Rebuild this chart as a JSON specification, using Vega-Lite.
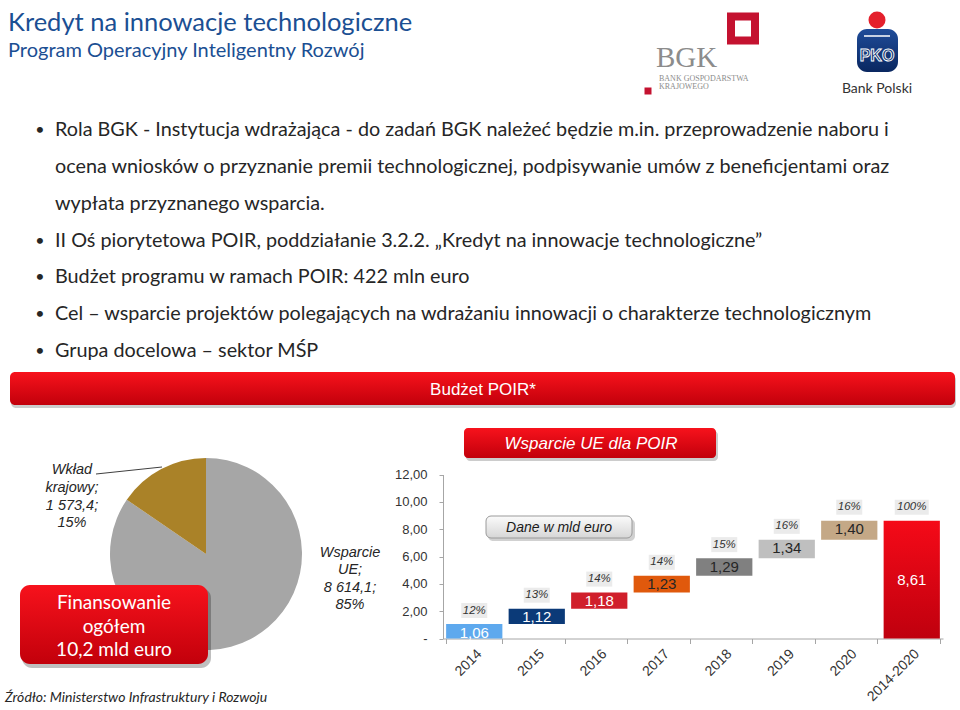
{
  "$schema": "https://vega.github.io/schema/vega-lite/v6.json",
  "width": 960,
  "height": 710,
  "autosize": {"type": "none"},
  "padding": 0,
  "background": "white",
  "config": {
    "view": {"stroke": null},
    "locale": {"number": {"decimal": ",", "thousands": " ", "grouping": [3], "currency": ["", " €"]}}
  },
  "resolve": {"scale": {"x": "independent", "y": "independent", "color": "independent"}},
  "layer": [
    {
      "layer": [
        {
          "data": {"values": [{"t": "Kredyt na innowacje technologiczne"}]},
          "mark": {"type": "text", "align": "left", "baseline": "alphabetic", "font": "Lato", "fontSize": 25.5, "color": "#1b4f93"},
          "encoding": {
            "x": {"datum": 8, "type": "quantitative", "scale": {"domain": [0, 960], "nice": false, "zero": false}, "axis": null},
            "y": {"datum": 31, "type": "quantitative", "scale": {"domain": [0, 710], "nice": false, "zero": false, "reverse": true}, "axis": null},
            "text": {"field": "t", "type": "nominal"}
          }
        },
        {
          "data": {"values": [{"t": "Program Operacyjny Inteligentny Rozwój"}]},
          "mark": {"type": "text", "align": "left", "baseline": "alphabetic", "font": "Lato", "fontSize": 20, "color": "#1b4f93"},
          "encoding": {
            "x": {"datum": 8, "type": "quantitative", "scale": {"domain": [0, 960], "nice": false, "zero": false}, "axis": null},
            "y": {"datum": 57, "type": "quantitative", "scale": {"domain": [0, 710], "nice": false, "zero": false, "reverse": true}, "axis": null},
            "text": {"field": "t", "type": "nominal"}
          }
        },
        {
          "data": {"values": [{"logo": "BGK"}]},
          "mark": {"type": "point", "shape": "square", "filled": false, "stroke": "#c41230", "strokeWidth": 8, "size": 576, "opacity": 1},
          "encoding": {
            "x": {"datum": 743, "type": "quantitative", "scale": {"domain": [0, 960], "nice": false, "zero": false}, "axis": null},
            "y": {"datum": 28.5, "type": "quantitative", "scale": {"domain": [0, 710], "nice": false, "zero": false, "reverse": true}, "axis": null}
          }
        },
        {
          "data": {"values": [{"logo": "BGK"}]},
          "mark": {"type": "point", "shape": "square", "filled": true, "color": "#c41230", "size": 49, "opacity": 1},
          "encoding": {
            "x": {"datum": 648, "type": "quantitative", "scale": {"domain": [0, 960], "nice": false, "zero": false}, "axis": null},
            "y": {"datum": 91, "type": "quantitative", "scale": {"domain": [0, 710], "nice": false, "zero": false, "reverse": true}, "axis": null}
          }
        },
        {
          "data": {"values": [{"t": "BGK"}]},
          "mark": {"type": "text", "align": "left", "baseline": "alphabetic", "font": "Liberation Serif", "fontSize": 29, "color": "#8c8c8c"},
          "encoding": {
            "x": {"datum": 656, "type": "quantitative", "scale": {"domain": [0, 960], "nice": false, "zero": false}, "axis": null},
            "y": {"datum": 66.5, "type": "quantitative", "scale": {"domain": [0, 710], "nice": false, "zero": false, "reverse": true}, "axis": null},
            "text": {"field": "t", "type": "nominal"}
          }
        },
        {
          "data": {"values": [{"t": "BANK GOSPODARSTWA"}]},
          "mark": {"type": "text", "align": "left", "baseline": "alphabetic", "font": "Liberation Serif", "fontSize": 8, "color": "#8c8c8c"},
          "encoding": {
            "x": {"datum": 659, "type": "quantitative", "scale": {"domain": [0, 960], "nice": false, "zero": false}, "axis": null},
            "y": {"datum": 80.5, "type": "quantitative", "scale": {"domain": [0, 710], "nice": false, "zero": false, "reverse": true}, "axis": null},
            "text": {"field": "t", "type": "nominal"}
          }
        },
        {
          "data": {"values": [{"t": "KRAJOWEGO"}]},
          "mark": {"type": "text", "align": "left", "baseline": "alphabetic", "font": "Liberation Serif", "fontSize": 8, "color": "#8c8c8c"},
          "encoding": {
            "x": {"datum": 659, "type": "quantitative", "scale": {"domain": [0, 960], "nice": false, "zero": false}, "axis": null},
            "y": {"datum": 89, "type": "quantitative", "scale": {"domain": [0, 710], "nice": false, "zero": false, "reverse": true}, "axis": null},
            "text": {"field": "t", "type": "nominal"}
          }
        },
        {
          "data": {"values": [{"logo": "PKO"}]},
          "mark": {"type": "point", "shape": "circle", "filled": true, "color": "#e4202c", "size": 289, "opacity": 1},
          "encoding": {
            "x": {"datum": 877, "type": "quantitative", "scale": {"domain": [0, 960], "nice": false, "zero": false}, "axis": null},
            "y": {"datum": 20, "type": "quantitative", "scale": {"domain": [0, 710], "nice": false, "zero": false, "reverse": true}, "axis": null}
          }
        },
        {
          "data": {"values": [{"logo": "PKO"}]},
          "mark": {"type": "rect", "cornerRadius": 10, "color": {"gradient": "linear", "x1": 0, "y1": 0, "x2": 0, "y2": 1, "stops": [{"offset": 0, "color": "#1f4c99"}, {"offset": 1, "color": "#0a2760"}]}},
          "encoding": {
            "x": {"datum": 857, "type": "quantitative", "scale": {"domain": [0, 960], "nice": false, "zero": false}, "axis": null},
            "x2": {"datum": 898},
            "y": {"datum": 29, "type": "quantitative", "scale": {"domain": [0, 710], "nice": false, "zero": false, "reverse": true}, "axis": null},
            "y2": {"datum": 72}
          }
        },
        {
          "data": {"values": [{"logo": "PKO"}]},
          "mark": {"type": "rule", "color": "white", "strokeWidth": 1.5},
          "encoding": {
            "x": {"datum": 864, "type": "quantitative", "scale": {"domain": [0, 960], "nice": false, "zero": false}, "axis": null},
            "x2": {"datum": 890},
            "y": {"datum": 36, "type": "quantitative", "scale": {"domain": [0, 710], "nice": false, "zero": false, "reverse": true}, "axis": null}
          }
        },
        {
          "data": {"values": [{"t": "PKO"}]},
          "mark": {"type": "text", "align": "center", "baseline": "middle", "font": "Liberation Sans", "fontWeight": "bold", "fontSize": 16, "color": "#0f2f6c", "stroke": "white", "strokeWidth": 0.9},
          "encoding": {
            "x": {"datum": 877, "type": "quantitative", "scale": {"domain": [0, 960], "nice": false, "zero": false}, "axis": null},
            "y": {"datum": 56, "type": "quantitative", "scale": {"domain": [0, 710], "nice": false, "zero": false, "reverse": true}, "axis": null},
            "text": {"field": "t", "type": "nominal"}
          }
        },
        {
          "data": {"values": [{"t": "Bank Polski"}]},
          "mark": {"type": "text", "align": "center", "baseline": "middle", "font": "Lato", "fontSize": 14, "color": "#333333"},
          "encoding": {
            "x": {"datum": 877, "type": "quantitative", "scale": {"domain": [0, 960], "nice": false, "zero": false}, "axis": null},
            "y": {"datum": 88.5, "type": "quantitative", "scale": {"domain": [0, 710], "nice": false, "zero": false, "reverse": true}, "axis": null},
            "text": {"field": "t", "type": "nominal"}
          }
        },
        {
          "data": {"values": [{"box": "Budżet POIR*"}]},
          "layer": [
            {
              "mark": {"type": "rect", "cornerRadius": 5, "color": "#000000", "opacity": 0.2},
              "encoding": {
                "x": {"datum": 11, "type": "quantitative", "scale": {"domain": [0, 960], "nice": false, "zero": false}, "axis": null},
                "x2": {"datum": 956},
                "y": {"datum": 375, "type": "quantitative", "scale": {"domain": [0, 710], "nice": false, "zero": false, "reverse": true}, "axis": null},
                "y2": {"datum": 408}
              }
            },
            {
              "mark": {"type": "rect", "cornerRadius": 5, "color": {"gradient": "linear", "x1": 0, "y1": 0, "x2": 0, "y2": 1, "stops": [{"offset": 0, "color": "#f7121c"}, {"offset": 1, "color": "#c2000b"}]}},
              "encoding": {
                "x": {"datum": 10, "type": "quantitative", "scale": {"domain": [0, 960], "nice": false, "zero": false}, "axis": null},
                "x2": {"datum": 955},
                "y": {"datum": 372, "type": "quantitative", "scale": {"domain": [0, 710], "nice": false, "zero": false, "reverse": true}, "axis": null},
                "y2": {"datum": 405}
              }
            },
            {
              "mark": {"type": "text", "align": "center", "baseline": "middle", "font": "Liberation Sans", "fontSize": 17, "color": "white"},
              "encoding": {
                "x": {"datum": 483, "type": "quantitative", "scale": {"domain": [0, 960], "nice": false, "zero": false}, "axis": null},
                "y": {"datum": 389.5, "type": "quantitative", "scale": {"domain": [0, 710], "nice": false, "zero": false, "reverse": true}, "axis": null},
                "text": {"field": "box", "type": "nominal"}
              }
            }
          ]
        },
        {
          "data": {"values": [{"box": "Wsparcie UE dla POIR"}]},
          "layer": [
            {
              "mark": {"type": "rect", "cornerRadius": 4, "color": "#000000", "opacity": 0.2},
              "encoding": {
                "x": {"datum": 466, "type": "quantitative", "scale": {"domain": [0, 960], "nice": false, "zero": false}, "axis": null},
                "x2": {"datum": 718},
                "y": {"datum": 431, "type": "quantitative", "scale": {"domain": [0, 710], "nice": false, "zero": false, "reverse": true}, "axis": null},
                "y2": {"datum": 461}
              }
            },
            {
              "mark": {"type": "rect", "cornerRadius": 4, "color": {"gradient": "linear", "x1": 0, "y1": 0, "x2": 0, "y2": 1, "stops": [{"offset": 0, "color": "#f7121c"}, {"offset": 1, "color": "#c2000b"}]}},
              "encoding": {
                "x": {"datum": 464, "type": "quantitative", "scale": {"domain": [0, 960], "nice": false, "zero": false}, "axis": null},
                "x2": {"datum": 716},
                "y": {"datum": 428, "type": "quantitative", "scale": {"domain": [0, 710], "nice": false, "zero": false, "reverse": true}, "axis": null},
                "y2": {"datum": 458}
              }
            },
            {
              "mark": {"type": "text", "align": "center", "baseline": "middle", "font": "Liberation Sans", "fontStyle": "italic", "fontSize": 17, "color": "white"},
              "encoding": {
                "x": {"datum": 591, "type": "quantitative", "scale": {"domain": [0, 960], "nice": false, "zero": false}, "axis": null},
                "y": {"datum": 443.5, "type": "quantitative", "scale": {"domain": [0, 710], "nice": false, "zero": false, "reverse": true}, "axis": null},
                "text": {"field": "box", "type": "nominal"}
              }
            }
          ]
        },
        {
          "data": {"values": [{"note": "Dane w mld euro"}]},
          "layer": [
            {
              "mark": {"type": "rect", "cornerRadius": 5, "color": "#000000", "opacity": 0.18},
              "encoding": {
                "x": {"datum": 488, "type": "quantitative", "scale": {"domain": [0, 960], "nice": false, "zero": false}, "axis": null},
                "x2": {"datum": 635},
                "y": {"datum": 519, "type": "quantitative", "scale": {"domain": [0, 710], "nice": false, "zero": false, "reverse": true}, "axis": null},
                "y2": {"datum": 541}
              }
            },
            {
              "mark": {"type": "rect", "cornerRadius": 5, "stroke": "#9a9a9a", "strokeWidth": 1, "fill": {"gradient": "linear", "x1": 0, "y1": 0, "x2": 0, "y2": 1, "stops": [{"offset": 0, "color": "#fbfbfb"}, {"offset": 1, "color": "#d6d6d6"}]}},
              "encoding": {
                "x": {"datum": 486, "type": "quantitative", "scale": {"domain": [0, 960], "nice": false, "zero": false}, "axis": null},
                "x2": {"datum": 632},
                "y": {"datum": 516, "type": "quantitative", "scale": {"domain": [0, 710], "nice": false, "zero": false, "reverse": true}, "axis": null},
                "y2": {"datum": 538}
              }
            },
            {
              "mark": {"type": "text", "align": "center", "baseline": "middle", "font": "Liberation Sans", "fontStyle": "italic", "fontSize": 14, "color": "#1a1a1a"},
              "encoding": {
                "x": {"datum": 559, "type": "quantitative", "scale": {"domain": [0, 960], "nice": false, "zero": false}, "axis": null},
                "y": {"datum": 527.5, "type": "quantitative", "scale": {"domain": [0, 710], "nice": false, "zero": false, "reverse": true}, "axis": null},
                "text": {"field": "note", "type": "nominal"}
              }
            }
          ]
        },
        {
          "data": {"values": [
            {"part": "Wsparcie UE", "value": 8614.1, "label": "Wsparcie\nUE;\n8 614,1;\n85%"},
            {"part": "Wkład krajowy", "value": 1573.4, "label": "Wkład\nkrajowy;\n1 573,4;\n15%"}
          ]},
          "layer": [
            {
              "mark": {"type": "arc", "outerRadius": 96},
              "encoding": {
                "x": {"datum": 206, "type": "quantitative", "scale": {"domain": [0, 960], "nice": false, "zero": false}, "axis": null},
                "y": {"datum": 554, "type": "quantitative", "scale": {"domain": [0, 710], "nice": false, "zero": false, "reverse": true}, "axis": null},
                "theta": {"field": "value", "type": "quantitative", "stack": true},
                "order": {"field": "value", "type": "quantitative", "sort": "descending"},
                "color": {"field": "part", "type": "nominal", "scale": {"domain": ["Wsparcie UE", "Wkład krajowy"], "range": ["#a6a6a6", "#aa8228"]}, "legend": null}
              }
            },
            {
              "transform": [{"filter": "datum.part === 'Wkład krajowy'"}],
              "mark": {"type": "text", "align": "center", "baseline": "middle", "font": "Liberation Sans", "fontStyle": "italic", "fontSize": 14.5, "lineBreak": "\n", "lineHeight": 17.8, "color": "#262626"},
              "encoding": {
                "x": {"datum": 72, "type": "quantitative", "scale": {"domain": [0, 960], "nice": false, "zero": false}, "axis": null},
                "y": {"datum": 470, "type": "quantitative", "scale": {"domain": [0, 710], "nice": false, "zero": false, "reverse": true}, "axis": null},
                "text": {"field": "label", "type": "nominal"}
              }
            },
            {
              "transform": [{"filter": "datum.part === 'Wsparcie UE'"}],
              "mark": {"type": "text", "align": "center", "baseline": "middle", "font": "Liberation Sans", "fontStyle": "italic", "fontSize": 14.5, "lineBreak": "\n", "lineHeight": 17.3, "color": "#262626"},
              "encoding": {
                "x": {"datum": 350, "type": "quantitative", "scale": {"domain": [0, 960], "nice": false, "zero": false}, "axis": null},
                "y": {"datum": 553, "type": "quantitative", "scale": {"domain": [0, 710], "nice": false, "zero": false, "reverse": true}, "axis": null},
                "text": {"field": "label", "type": "nominal"}
              }
            },
            {
              "transform": [{"filter": "datum.part === 'Wkład krajowy'"}],
              "mark": {"type": "rule", "color": "#404040", "strokeWidth": 1},
              "encoding": {
                "x": {"datum": 96, "type": "quantitative", "scale": {"domain": [0, 960], "nice": false, "zero": false}, "axis": null},
                "x2": {"datum": 162},
                "y": {"datum": 474, "type": "quantitative", "scale": {"domain": [0, 710], "nice": false, "zero": false, "reverse": true}, "axis": null},
                "y2": {"datum": 467}
              }
            }
          ]
        },
        {
          "data": {"values": [{"box": "Finansowanie\nogółem\n10,2 mld euro"}]},
          "layer": [
            {
              "mark": {"type": "rect", "cornerRadius": 10, "color": "#000000", "opacity": 0.25},
              "encoding": {
                "x": {"datum": 22, "type": "quantitative", "scale": {"domain": [0, 960], "nice": false, "zero": false}, "axis": null},
                "x2": {"datum": 211},
                "y": {"datum": 588, "type": "quantitative", "scale": {"domain": [0, 710], "nice": false, "zero": false, "reverse": true}, "axis": null},
                "y2": {"datum": 668}
              }
            },
            {
              "mark": {"type": "rect", "cornerRadius": 10, "color": {"gradient": "linear", "x1": 0, "y1": 0, "x2": 0, "y2": 1, "stops": [{"offset": 0, "color": "#f7121c"}, {"offset": 1, "color": "#c2000b"}]}},
              "encoding": {
                "x": {"datum": 20, "type": "quantitative", "scale": {"domain": [0, 960], "nice": false, "zero": false}, "axis": null},
                "x2": {"datum": 208},
                "y": {"datum": 585, "type": "quantitative", "scale": {"domain": [0, 710], "nice": false, "zero": false, "reverse": true}, "axis": null},
                "y2": {"datum": 664}
              }
            },
            {
              "mark": {"type": "text", "align": "center", "baseline": "middle", "font": "Lato", "fontSize": 19, "lineBreak": "\n", "lineHeight": 23.5, "color": "white"},
              "encoding": {
                "x": {"datum": 114, "type": "quantitative", "scale": {"domain": [0, 960], "nice": false, "zero": false}, "axis": null},
                "y": {"datum": 603, "type": "quantitative", "scale": {"domain": [0, 710], "nice": false, "zero": false, "reverse": true}, "axis": null},
                "text": {"field": "box", "type": "nominal"}
              }
            }
          ]
        },
        {
          "data": {"values": [{"t": "Źródło: Ministerstwo Infrastruktury i Rozwoju"}]},
          "mark": {"type": "text", "align": "left", "baseline": "middle", "font": "Lato", "fontStyle": "italic", "fontSize": 14, "color": "#262626"},
          "encoding": {
            "x": {"datum": 5, "type": "quantitative", "scale": {"domain": [0, 960], "nice": false, "zero": false}, "axis": null},
            "y": {"datum": 698, "type": "quantitative", "scale": {"domain": [0, 710], "nice": false, "zero": false, "reverse": true}, "axis": null},
            "text": {"field": "t", "type": "nominal"}
          }
        }
      ]
    },
    {
      "data": {"values": [
        {"line": 1, "bullet": "•", "text": "Rola BGK -  Instytucja wdrażająca - do zadań BGK należeć będzie m.in. przeprowadzenie naboru i"},
        {"line": 2, "bullet": "", "text": "ocena wniosków o przyznanie premii technologicznej, podpisywanie umów z beneficjentami oraz"},
        {"line": 3, "bullet": "", "text": "wypłata przyznanego wsparcia."},
        {"line": 4, "bullet": "•", "text": "II Oś piorytetowa POIR, poddziałanie 3.2.2. „Kredyt na innowacje technologiczne”"},
        {"line": 5, "bullet": "•", "text": "Budżet programu w ramach POIR: 422 mln euro"},
        {"line": 6, "bullet": "•", "text": "Cel – wsparcie projektów polegających na wdrażaniu innowacji o charakterze technologicznym"},
        {"line": 7, "bullet": "•", "text": "Grupa docelowa – sektor MŚP"}
      ]},
      "encoding": {
        "y": {"field": "line", "type": "quantitative", "scale": {"domain": [1, 7], "range": [130, 351], "nice": false, "zero": false}, "axis": null}
      },
      "layer": [
        {
          "mark": {"type": "text", "align": "center", "baseline": "middle", "font": "Lato", "fontSize": 16, "color": "#262626"},
          "encoding": {
            "x": {"datum": 40, "type": "quantitative", "scale": {"domain": [0, 960], "nice": false, "zero": false}, "axis": null},
            "text": {"field": "bullet", "type": "nominal"}
          }
        },
        {
          "mark": {"type": "text", "align": "left", "baseline": "middle", "font": "Lato", "fontSize": 19.8, "color": "#262626"},
          "encoding": {
            "x": {"datum": 55, "type": "quantitative", "scale": {"domain": [0, 960], "nice": false, "zero": false}, "axis": null},
            "text": {"field": "text", "type": "nominal"}
          }
        }
      ]
    },
    {
      "data": {"values": [
        {"year": "2014", "start": 0, "end": 1.06, "amount": 1.06, "share": 0.12},
        {"year": "2015", "start": 1.06, "end": 2.18, "amount": 1.12, "share": 0.13},
        {"year": "2016", "start": 2.18, "end": 3.36, "amount": 1.18, "share": 0.14},
        {"year": "2017", "start": 3.36, "end": 4.59, "amount": 1.23, "share": 0.14},
        {"year": "2018", "start": 4.59, "end": 5.88, "amount": 1.29, "share": 0.15},
        {"year": "2019", "start": 5.88, "end": 7.22, "amount": 1.34, "share": 0.16},
        {"year": "2020", "start": 7.22, "end": 8.62, "amount": 1.40, "share": 0.16},
        {"year": "2014-2020", "start": 0, "end": 8.61, "amount": 8.61, "share": 1.0}
      ]},
      "encoding": {
        "x": {
          "field": "year", "type": "nominal",
          "scale": {"domain": ["2014", "2015", "2016", "2017", "2018", "2019", "2020", "2014-2020"], "range": [443, 943], "paddingInner": 0.1, "paddingOuter": 0.05},
          "axis": {"title": null, "labelAngle": -45, "labelFont": "Liberation Sans", "labelFontSize": 14, "labelColor": "#333333", "domainColor": "#a6a6a6", "tickColor": "#a6a6a6", "tickSize": 5, "tickBand": "extent", "labelPadding": 3, "offset": -71.5, "grid": false}
        },
        "y": {
          "field": "end", "type": "quantitative",
          "scale": {"domain": [0, 12], "range": [638.5, 474.5], "nice": false, "zero": true},
          "axis": {"title": null, "values": [0, 2, 4, 6, 8, 10, 12], "format": ".2f", "labelExpr": "datum.value === 0 ? '-' : datum.label", "labelFont": "Liberation Sans", "labelFontSize": 13, "labelColor": "#333333", "domainColor": "#a6a6a6", "tickColor": "#a6a6a6", "tickSize": 4, "labelPadding": 12, "offset": -443, "grid": false}
        }
      },
      "layer": [
        {
          "transform": [{"filter": "datum.year !== '2014-2020'"}],
          "mark": {"type": "bar", "opacity": 1},
          "encoding": {
            "y2": {"field": "start"},
            "color": {"field": "year", "type": "nominal", "scale": {"domain": ["2014", "2015", "2016", "2017", "2018", "2019", "2020"], "range": ["#5ea9ee", "#0b3a78", "#d01f2b", "#e0590c", "#808080", "#bfbfbf", "#c4a886"]}, "legend": null}
          }
        },
        {
          "transform": [{"filter": "datum.year === '2014-2020'"}],
          "mark": {"type": "bar", "opacity": 1, "color": {"gradient": "linear", "x1": 0, "y1": 0, "x2": 0, "y2": 1, "stops": [{"offset": 0, "color": "#f50a18"}, {"offset": 1, "color": "#bf000e"}]}},
          "encoding": {"y2": {"field": "start"}}
        },
        {
          "transform": [{"filter": "datum.year !== '2014-2020'"}],
          "mark": {"type": "bar", "opacity": 1, "width": 26, "color": "#ebebeb", "yOffset": -6, "y2Offset": -21},
          "encoding": {"y2": {"field": "end"}}
        },
        {
          "transform": [{"filter": "datum.year === '2014-2020'"}],
          "mark": {"type": "bar", "opacity": 1, "width": 34, "color": "#ebebeb", "yOffset": -6, "y2Offset": -21},
          "encoding": {"y2": {"field": "end"}}
        },
        {
          "mark": {"type": "text", "align": "center", "baseline": "middle", "dy": -13.5, "font": "Liberation Sans", "fontStyle": "italic", "fontSize": 11.5, "color": "#333333"},
          "encoding": {"text": {"field": "share", "type": "quantitative", "format": ".0%"}}
        },
        {
          "transform": [{"filter": "datum.year !== '2014-2020'"}],
          "mark": {"type": "text", "align": "center", "baseline": "middle", "dy": 8.5, "font": "Liberation Sans", "fontSize": 15},
          "encoding": {
            "text": {"field": "amount", "type": "quantitative", "format": ".2f"},
            "color": {"condition": {"test": "indexof(['2014','2015','2016'], datum.year) >= 0", "value": "white"}, "value": "#262626"}
          }
        },
        {
          "transform": [{"filter": "datum.year === '2014-2020'"}],
          "mark": {"type": "text", "align": "center", "baseline": "middle", "dy": 59, "font": "Liberation Sans", "fontSize": 15, "color": "white"},
          "encoding": {"text": {"field": "amount", "type": "quantitative", "format": ".2f"}}
        }
      ]
    }
  ]
}
